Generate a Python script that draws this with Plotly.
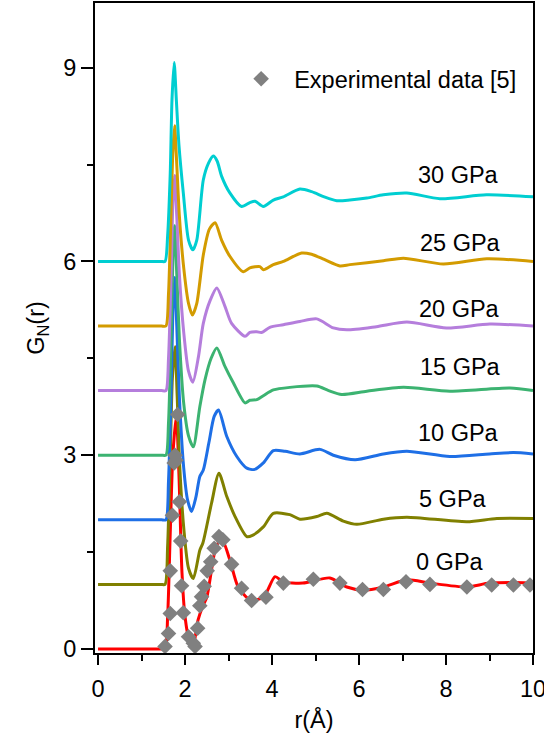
import plotly.graph_objects as go

# ---- data ----
pressures = ["0 GPa", "5 GPa", "10 GPa", "15 GPa", "20 GPa", "25 GPa", "30 GPa"]
offsets = [0, 1, 2, 3, 4, 5, 6]
colors = ["#FF0000", "#808000", "#1E6FE6", "#3CB371", "#B57EDC", "#D39B00", "#00CED1"]

r_0 = [0, 0.5, 1.0, 1.3, 1.45, 1.54, 1.60, 1.66, 1.72, 1.80, 1.86, 1.93, 2.0, 2.1, 2.18, 2.3, 2.4, 2.5, 2.62, 2.72, 2.85, 3.03, 3.22, 3.5, 3.8, 4.07, 4.25, 4.71, 5.33, 5.72, 6.1, 6.56, 7.1, 7.63, 8.48, 9.0, 9.93, 10]
g_0 = [0, 0, 0, 0, 0, 0, 0.5, 1.8, 3.0, 3.6, 2.7, 1.18, 0.5, 0.12, 0.03, 0.45, 0.65, 0.8, 1.27, 1.6, 1.69, 1.38, 0.96, 0.76, 0.80, 1.12, 1.04, 1.02, 1.1, 0.96, 0.91, 0.96, 1.07, 1.02, 0.96, 1.02, 1.02, 1.0]

r_5 = [0, 0.5, 1.0, 1.3, 1.45, 1.54, 1.60, 1.66, 1.71, 1.77, 1.82, 1.88, 1.98, 2.08, 2.19, 2.34, 2.41, 2.61, 2.78, 2.96, 3.15, 3.42, 3.55, 3.80, 4.03, 4.41, 4.64, 5.03, 5.26, 5.64, 5.95, 6.56, 7.1, 8.48, 9.17, 10]
g_5 = [0, 0, 0, 0, 0, 0, 0.6, 2.0, 3.2, 3.68, 2.9, 1.8, 0.8, 0.25, 0.09, 0.53, 0.64, 1.26, 1.72, 1.36, 1.05, 0.74, 0.76, 0.89, 1.10, 1.08, 1.01, 1.05, 1.10, 0.98, 0.93, 1.01, 1.04, 0.97, 1.02, 1.02]

r_10 = [0, 0.5, 1.0, 1.3, 1.46, 1.56, 1.62, 1.68, 1.72, 1.76, 1.81, 1.87, 1.97, 2.06, 2.15, 2.25, 2.34, 2.42, 2.55, 2.67, 2.77, 2.96, 3.19, 3.42, 3.6, 3.80, 4.03, 4.30, 4.64, 5.10, 5.41, 5.91, 6.56, 7.1, 8.09, 9.0, 9.55, 10]
g_10 = [0, 0, 0, 0, 0, 0, 0.6, 2.0, 3.2, 3.75, 3.0, 1.9, 0.8, 0.3, 0.13, 0.35, 0.67, 0.77, 1.2, 1.6, 1.70, 1.29, 0.98, 0.80, 0.78, 0.88, 1.07, 1.06, 1.02, 1.09, 1.0, 0.93, 1.02, 1.06, 0.98, 1.02, 1.04, 1.02]

r_15 = [0, 0.5, 1.0, 1.3, 1.46, 1.56, 1.62, 1.68, 1.72, 1.76, 1.81, 1.87, 1.97, 2.08, 2.19, 2.34, 2.46, 2.6, 2.73, 2.92, 3.11, 3.38, 3.49, 3.65, 3.80, 4.03, 4.41, 5.03, 5.3, 5.6, 6.18, 7.02, 8.09, 9.47, 10]
g_15 = [0, 0, 0, 0, 0, 0, 0.5, 1.9, 3.0, 3.55, 2.8, 1.8, 0.8, 0.3, 0.13, 0.75, 1.17, 1.5, 1.66, 1.37, 1.12, 0.81, 0.85, 0.86, 0.92, 1.01, 1.05, 1.07, 1.0, 0.94, 0.99, 1.05, 0.99, 1.04, 1.0]

r_20 = [0, 0.5, 1.0, 1.3, 1.46, 1.56, 1.62, 1.68, 1.72, 1.76, 1.81, 1.87, 1.97, 2.08, 2.18, 2.31, 2.42, 2.58, 2.73, 2.92, 3.07, 3.38, 3.49, 3.65, 3.76, 3.95, 4.26, 4.64, 5.03, 5.41, 5.72, 6.40, 7.1, 8.01, 9.01, 10]
g_20 = [0, 0, 0, 0, 0, 0, 0.5, 1.8, 2.9, 3.33, 2.7, 1.8, 0.9, 0.3, 0.13, 0.53, 1.04, 1.4, 1.59, 1.30, 1.04, 0.84, 0.90, 0.91, 0.90, 0.98, 1.02, 1.07, 1.11, 0.97, 0.94, 0.99, 1.06, 0.97, 1.03, 1.0]

r_25 = [0, 0.5, 1.0, 1.3, 1.46, 1.56, 1.62, 1.68, 1.72, 1.76, 1.81, 1.87, 1.97, 2.08, 2.17, 2.27, 2.42, 2.56, 2.69, 2.84, 3.03, 3.34, 3.49, 3.72, 3.80, 4.03, 4.26, 4.68, 4.91, 5.2, 5.56, 5.79, 6.56, 7.02, 7.94, 8.94, 10]
g_25 = [0, 0, 0, 0, 0, 0, 0.5, 1.8, 2.7, 3.10, 2.5, 1.7, 0.9, 0.35, 0.17, 0.35, 1.1, 1.5, 1.60, 1.33, 1.08, 0.84, 0.90, 0.92, 0.87, 0.95, 1.0, 1.13, 1.11, 1.03, 0.93, 0.95, 1.01, 1.05, 0.96, 1.04, 1.0]

r_30 = [0, 0.5, 1.0, 1.3, 1.45, 1.54, 1.60, 1.66, 1.70, 1.75, 1.80, 1.86, 1.96, 2.08, 2.18, 2.27, 2.42, 2.54, 2.65, 2.74, 2.84, 3.03, 3.30, 3.49, 3.61, 3.80, 4.03, 4.26, 4.64, 4.91, 5.2, 5.49, 5.79, 6.18, 6.56, 7.1, 7.86, 8.93, 10]
g_30 = [0, 0, 0, 0, 0, 0, 0.4, 1.37, 2.5, 3.08, 2.5, 1.8, 1.06, 0.33, 0.18, 0.33, 1.26, 1.52, 1.63, 1.55, 1.32, 1.06, 0.85, 0.91, 0.93, 0.85, 0.95, 1.0, 1.12, 1.08, 1.0, 0.94, 0.95, 0.98, 1.03, 1.06, 0.97, 1.03, 1.0]

r_exp = [1.54, 1.62, 1.66, 1.66, 1.71, 1.75, 1.77, 1.79, 1.83, 1.87, 1.90, 1.92, 1.96, 2.08, 2.19, 2.23, 2.29,
         2.34, 2.38, 2.44, 2.51, 2.59, 2.67, 2.78, 2.87, 3.07, 3.30, 3.53, 3.86, 4.26, 4.95, 5.56, 6.08, 6.56,
         7.08, 7.63, 8.48, 9.05, 9.55, 9.93]
g_exp = [0.04, 0.24, 0.55, 1.21, 2.07, 2.88, 3.00, 2.92, 3.63, 2.28, 1.67, 0.98, 0.56, 0.19, 0.09, 0.04, 0.32,
         0.67, 0.81, 0.97, 1.21, 1.35, 1.56, 1.74, 1.69, 1.31, 0.94, 0.75, 0.80, 1.02, 1.08, 1.02, 0.92, 0.92,
         1.04, 1.00, 0.96, 0.99, 0.99, 0.99]

label_x = [8.09, 8.17, 8.28, 8.33, 8.30, 8.34, 8.28]
label_y = [1.35, 2.32, 3.34, 4.37, 5.26, 6.29, 7.34]

r_sets = [r_0, r_5, r_10, r_15, r_20, r_25, r_30]
g_sets = [g_0, g_5, g_10, g_15, g_20, g_25, g_30]

FONT = "Liberation Sans, Arial, sans-serif"
FS = 23.5

fig = go.Figure()
for name, off, col, rr, gg in zip(pressures, offsets, colors, r_sets, g_sets):
    fig.add_trace(go.Scatter(
        x=rr, y=[v + off for v in gg], mode="lines", name=name,
        line=dict(color=col, width=3, shape="spline", smoothing=0.7),
        showlegend=False))

fig.add_trace(go.Scatter(
    x=r_exp, y=g_exp, mode="markers", name="Experimental data [5]",
    marker=dict(symbol="diamond", size=12, color="#808080", line=dict(width=0)),
    showlegend=True))

for name, lx, ly in zip(pressures, label_x, label_y):
    fig.add_annotation(x=lx, y=ly, text=name, showarrow=False,
                       font=dict(family=FONT, size=FS, color="black"))

fig.update_layout(
    width=544, height=740,
    margin=dict(l=95, r=11, t=3, b=87, autoexpand=False),
    paper_bgcolor="white", plot_bgcolor="white",
    font=dict(family=FONT, size=FS, color="black"),
    legend=dict(x=0.304, y=0.917, xanchor="left", yanchor="top",
                bgcolor="rgba(0,0,0,0)", font=dict(family=FONT, size=FS),
                itemwidth=56),
    xaxis=dict(range=[-0.07, 10.0], showline=True, linewidth=2, linecolor="black",
               mirror=True, ticks="outside", ticklen=10, tickwidth=2, tickcolor="black",
               tick0=0, dtick=2, showgrid=False, zeroline=False, automargin=False,
               ticklabelstandoff=4, ticklabeloverflow="allow",
               minor=dict(ticks="outside", ticklen=6, tickwidth=2, dtick=1, tick0=0, tickcolor="black"),
               title=dict(text="r(Å)", font=dict(family=FONT, size=FS), standoff=10),
               tickfont=dict(family=FONT, size=FS)),
    yaxis=dict(range=[-0.062, 10.0], showline=True, linewidth=2, linecolor="black",
               mirror=True, ticks="outside", ticklen=12, tickwidth=2, tickcolor="black",
               tick0=0, dtick=3, showgrid=False, zeroline=False, automargin=False,
               ticklabeloverflow="allow",
               minor=dict(ticks="outside", ticklen=6, tickwidth=2, dtick=1.5, tick0=0, tickcolor="black"),
               title=dict(text="G<sub>N</sub>(r)", font=dict(family=FONT, size=FS), standoff=12),
               tickfont=dict(family=FONT, size=FS)),
)

fig.write_html("out.html", config={"displayModeBar": False},
               post_script="document.body.style.margin='0';document.body.style.overflow='hidden';")
